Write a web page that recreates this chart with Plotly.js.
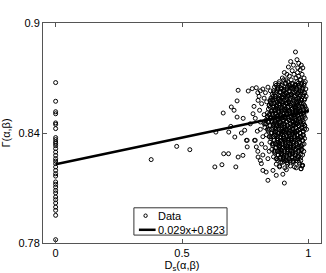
<!DOCTYPE html>
<html><head><meta charset="utf-8">
<script src="https://cdn.plot.ly/plotly-3.0.1.min.js"></script>
<style>html,body{margin:0;padding:0;background:#fff}#c{width:326px;height:273px}</style>
</head><body><div id="c"></div>
<script>
// Points at D_s = 0 (Gamma values)
const zeroY = [0.8675,0.8573,0.8516,0.8505,0.8455,0.8447,0.8424,0.8375,0.8364,0.8351,0.8342,0.8331,0.8315,0.8296,0.8278,0.8260,0.8247,0.8233,0.8215,0.8196,0.8178,0.8165,0.8133,0.8120,0.8105,0.8087,0.8073,0.8051,0.8036,0.8018,0.7996,0.7978,0.7951,0.7818];

// Scattered points (D_s, Gamma)
const sparseX = [0.378,0.479,0.531,0.630,0.658,0.634,0.663,0.665,0.684,0.685,0.693,0.695,0.706,0.713,0.718,0.722,0.718,0.709,0.722,0.741,0.748,0.758,0.758,0.762,0.778,0.794,0.785,0.781,0.801,0.807,0.787,0.794,0.801,0.814,0.820,0.833,0.840,0.860,0.873,0.886,0.905,0.899,0.971,0.977,
 0.800,0.810,0.820,0.830,0.840,0.850,0.805,0.825,0.815,0.835,0.845,0.790,0.810,0.825,0.830,0.840,0.850,0.855,0.860,
 0.810,0.820,0.815,0.800,0.790,0.820,0.830,0.840,0.825,0.810,0.845,0.770,0.755,0.735,0.742,0.798];
const sparseY = [0.8255,0.8327,0.8309,0.8215,0.8227,0.8405,0.8509,0.8287,0.8287,0.8405,0.8436,0.8542,0.8524,0.8215,0.8575,0.8633,0.8487,0.8378,0.8269,0.8278,0.8415,0.8360,0.8324,0.8629,0.8642,0.8647,0.8545,0.8505,0.8578,0.8524,0.8360,0.8324,0.8269,0.8233,0.8196,0.8187,0.8142,0.8196,0.8169,0.8215,0.8127,0.8175,0.8205,0.8224,
 0.862,0.863,0.864,0.862,0.865,0.863,0.860,0.859,0.856,0.857,0.855,0.848,0.846,0.850,0.845,0.849,0.858,0.852,0.860,
 0.842,0.838,0.834,0.830,0.836,0.828,0.832,0.826,0.845,0.825,0.830,0.845,0.836,0.840,0.848,0.841];

// Dense cluster (D_s, Gamma), part 1
const clusterX = [
 0.949,0.930,0.955,0.962,0.941,0.972,0.921,0.958,0.968,0.978,
 0.905,0.915,0.925,0.943,0.951,0.961,0.975,0.983,0.932,0.897,0.969,0.957,0.936,0.912,
 0.870,0.885,0.892,0.908,0.918,0.928,0.938,0.946,0.955,0.964,0.974,0.982,0.902,0.988,0.878,0.923,0.951,0.967,
 0.862,0.871,0.880,0.887,0.894,0.901,0.909,0.916,0.924,0.931,0.939,0.946,0.953,0.960,0.968,0.975,0.983,0.990,0.898,0.934,0.957,0.913,
 0.852,0.860,0.868,0.874,0.881,0.888,0.893,0.899,0.905,0.911,0.917,0.923,0.929,0.935,0.941,0.947,0.953,0.959,0.965,0.971,0.977,0.984,0.991,0.885,0.926,0.962,
 0.845,0.853,0.861,0.867,0.873,0.879,0.884,0.890,0.896,0.902,0.907,0.913,0.919,0.925,0.931,0.936,0.942,0.948,0.954,0.960,0.966,0.972,0.978,0.985,0.992,0.871,0.916,0.951,
 0.838,0.846,0.854,0.860,0.866,0.872,0.877,0.883,0.888,0.894,0.899,0.905,0.910,0.916,0.921,0.927,0.932,0.938,0.943,0.949,0.954,0.960,0.966,0.972,0.978,0.984,0.993,0.880,0.924,0.957,
 0.832,0.842,0.850,0.857,0.863,0.869,0.875,0.880,0.886,0.891,0.897,0.902,0.908,0.913,0.919,0.924,0.930,0.935,0.941,0.946,0.952,0.957,0.963,0.969,0.975,0.981,0.988,0.866,0.911,0.949,
 0.828,0.838,0.847,0.855,0.861,0.867,0.873,0.878,0.884,0.889,0.895,0.900,0.906,0.911,0.917,0.922,0.928,0.933,0.939,0.944,0.950,0.955,0.961,0.967,0.973,0.979,0.986,0.993,0.903,0.942,
 0.834,0.845,0.853,0.860,0.866,0.872,0.877,0.883,0.888,0.894,0.899,0.905,0.910,0.916,0.921,0.927,0.932,0.938,0.943,0.949,0.954,0.960,0.966,0.972,0.978,0.985,0.891,0.935,
 0.848,0.857,0.864,0.870,0.876,0.882,0.887,0.893,0.898,0.904,0.909,0.915,0.920,0.926,0.931,0.937,0.942,0.948,0.953,0.959,0.965,0.971,0.977,0.983,0.879,0.924,
 0.855,0.864,0.871,0.878,0.884,0.890,0.895,0.901,0.906,0.912,0.917,0.923,0.928,0.934,0.939,0.945,0.950,0.956,0.962,0.968,0.975,0.982,0.887,0.931,
 0.862,0.872,0.880,0.888,0.895,0.902,0.909,0.915,0.922,0.928,0.935,0.941,0.948,0.955,0.962,0.970,0.977,0.899,0.938,0.918,
 0.873,0.886,0.897,0.907,0.918,0.929,0.941,0.952,0.965,0.975,0.971,0.977,0.913,0.945];
const clusterY = [
 0.8842,0.879,0.880,0.878,0.877,0.877,0.876,0.8755,0.8745,0.8755,
 0.873,0.872,0.871,0.872,0.870,0.871,0.872,0.870,0.869,0.870,0.869,0.873,0.874,0.869,
 0.867,0.868,0.866,0.867,0.868,0.866,0.867,0.866,0.868,0.866,0.867,0.866,0.869,0.868,0.865,0.865,0.865,0.869,
 0.863,0.862,0.864,0.862,0.864,0.863,0.862,0.864,0.863,0.861,0.864,0.862,0.864,0.862,0.863,0.864,0.862,0.864,0.861,0.8645,0.8615,0.8615,
 0.859,0.858,0.860,0.858,0.859,0.860,0.857,0.859,0.861,0.858,0.860,0.857,0.859,0.861,0.858,0.860,0.857,0.859,0.860,0.858,0.860,0.858,0.860,0.8575,0.8605,0.8575,
 0.855,0.856,0.854,0.856,0.855,0.853,0.856,0.854,0.856,0.855,0.853,0.856,0.854,0.856,0.855,0.853,0.856,0.854,0.856,0.855,0.853,0.856,0.854,0.855,0.853,0.8535,0.8565,0.8535,
 0.851,0.850,0.852,0.850,0.852,0.851,0.849,0.852,0.850,0.852,0.851,0.849,0.852,0.850,0.852,0.851,0.849,0.852,0.850,0.852,0.851,0.849,0.852,0.850,0.851,0.849,0.852,0.8495,0.8525,0.8495,
 0.847,0.846,0.848,0.846,0.848,0.847,0.845,0.848,0.846,0.848,0.847,0.845,0.848,0.846,0.848,0.847,0.845,0.848,0.846,0.848,0.847,0.845,0.848,0.846,0.847,0.845,0.848,0.8455,0.8485,0.8455,
 0.843,0.842,0.844,0.842,0.844,0.843,0.841,0.844,0.842,0.844,0.843,0.841,0.844,0.842,0.844,0.843,0.841,0.844,0.842,0.844,0.843,0.841,0.844,0.842,0.843,0.841,0.844,0.842,0.8415,0.8445,
 0.839,0.838,0.840,0.838,0.840,0.839,0.837,0.840,0.838,0.840,0.839,0.837,0.840,0.838,0.840,0.839,0.837,0.840,0.838,0.840,0.839,0.837,0.840,0.838,0.839,0.837,0.8375,0.8405,
 0.835,0.834,0.836,0.834,0.836,0.835,0.833,0.836,0.834,0.836,0.835,0.833,0.836,0.834,0.836,0.835,0.833,0.836,0.834,0.836,0.835,0.833,0.836,0.834,0.8335,0.8365,
 0.831,0.830,0.832,0.830,0.832,0.831,0.829,0.832,0.830,0.832,0.831,0.829,0.832,0.830,0.832,0.831,0.829,0.832,0.830,0.832,0.831,0.830,0.8295,0.8325,
 0.827,0.826,0.828,0.826,0.828,0.827,0.825,0.828,0.826,0.828,0.827,0.825,0.828,0.826,0.827,0.825,0.828,0.8255,0.8285,0.825,
 0.823,0.822,0.824,0.821,0.823,0.822,0.824,0.821,0.823,0.822,0.8205,0.8224,0.820,0.8215];

// Dense cluster, part 2
const cluster2X = [
 0.866,0.879,0.891,0.904,0.917,0.929,0.942,0.954,0.966,0.979,
 0.857,0.870,0.883,0.896,0.908,0.920,0.932,0.944,0.956,0.969,0.981,
 0.849,0.863,0.876,0.888,0.899,0.911,0.922,0.933,0.945,0.957,0.968,0.980,
 0.842,0.856,0.869,0.881,0.892,0.903,0.914,0.925,0.936,0.947,0.958,0.969,0.981,
 0.837,0.851,0.864,0.876,0.887,0.898,0.909,0.920,0.931,0.942,0.953,0.964,0.976,
 0.834,0.849,0.862,0.874,0.885,0.896,0.907,0.918,0.929,0.940,0.951,0.962,0.974,0.985,
 0.841,0.856,0.869,0.880,0.891,0.902,0.913,0.924,0.935,0.946,0.957,0.968,0.980,
 0.851,0.866,0.878,0.889,0.900,0.911,0.922,0.933,0.944,0.955,0.966,0.978,
 0.859,0.873,0.885,0.896,0.907,0.918,0.929,0.940,0.951,0.962,0.973,
 0.867,0.881,0.893,0.904,0.915,0.926,0.937,0.948,0.959,0.970,
 0.878,0.891,0.903,0.915,0.927,0.939,0.951,0.963];
const cluster2Y = [
 0.8651,0.8641,0.8647,0.8638,0.8650,0.8643,0.8649,0.8640,0.8652,0.8644,
 0.8611,0.8601,0.8607,0.8598,0.8610,0.8603,0.8609,0.8600,0.8612,0.8604,0.8608,
 0.8571,0.8561,0.8567,0.8558,0.8570,0.8563,0.8569,0.8560,0.8572,0.8564,0.8568,0.8559,
 0.8531,0.8521,0.8527,0.8518,0.8530,0.8523,0.8529,0.8520,0.8532,0.8524,0.8528,0.8519,0.8526,
 0.8491,0.8481,0.8487,0.8478,0.8490,0.8483,0.8489,0.8480,0.8492,0.8484,0.8488,0.8479,0.8486,
 0.8451,0.8441,0.8447,0.8438,0.8450,0.8443,0.8449,0.8440,0.8452,0.8444,0.8448,0.8439,0.8446,0.8442,
 0.8411,0.8401,0.8407,0.8398,0.8410,0.8403,0.8409,0.8400,0.8412,0.8404,0.8408,0.8399,0.8406,
 0.8371,0.8361,0.8367,0.8358,0.8370,0.8363,0.8369,0.8360,0.8372,0.8364,0.8368,0.8359,
 0.8331,0.8321,0.8327,0.8318,0.8330,0.8323,0.8329,0.8320,0.8332,0.8324,0.8328,
 0.8291,0.8281,0.8287,0.8278,0.8290,0.8283,0.8289,0.8280,0.8292,0.8284,
 0.8251,0.8241,0.8247,0.8238,0.8250,0.8243,0.8249,0.8240];

// Dense cluster, part 3
const cluster3X = [
 0.872,0.884,0.897,0.911,0.923,0.935,0.948,0.960,0.971,0.984,
 0.864,0.877,0.889,0.902,0.914,0.926,0.938,0.950,0.962,0.975,0.986,
 0.856,0.869,0.881,0.893,0.905,0.916,0.927,0.939,0.951,0.963,0.974,0.986,
 0.849,0.862,0.874,0.886,0.897,0.908,0.919,0.930,0.941,0.952,0.963,0.975,0.987,
 0.843,0.857,0.870,0.882,0.893,0.904,0.915,0.926,0.937,0.948,0.959,0.970,0.982,
 0.840,0.855,0.868,0.880,0.891,0.902,0.913,0.924,0.935,0.946,0.957,0.968,0.980,
 0.845,0.859,0.872,0.884,0.895,0.906,0.917,0.928,0.939,0.950,0.961,0.973,0.985,
 0.852,0.866,0.879,0.891,0.902,0.913,0.924,0.935,0.946,0.957,0.969,0.981,
 0.861,0.875,0.887,0.898,0.909,0.920,0.931,0.942,0.953,0.964,0.976,
 0.869,0.883,0.895,0.906,0.917,0.928,0.939,0.950,0.961,0.972,
 0.876,0.889,0.901,0.913,0.925,0.936,0.947,0.958,0.969];
const cluster3Y = [
 0.8660,0.8669,0.8663,0.8672,0.8659,0.8668,0.8661,0.8671,0.8664,0.8670,
 0.8620,0.8629,0.8623,0.8632,0.8619,0.8628,0.8621,0.8631,0.8624,0.8630,0.8618,
 0.8580,0.8589,0.8583,0.8592,0.8579,0.8588,0.8581,0.8591,0.8584,0.8590,0.8578,0.8587,
 0.8540,0.8549,0.8543,0.8552,0.8539,0.8548,0.8541,0.8551,0.8544,0.8550,0.8538,0.8547,0.8542,
 0.8500,0.8509,0.8503,0.8512,0.8499,0.8508,0.8501,0.8511,0.8504,0.8510,0.8498,0.8507,0.8502,
 0.8460,0.8469,0.8463,0.8472,0.8459,0.8468,0.8461,0.8471,0.8464,0.8470,0.8458,0.8467,0.8462,
 0.8420,0.8429,0.8423,0.8432,0.8419,0.8428,0.8421,0.8431,0.8424,0.8430,0.8418,0.8427,0.8422,
 0.8380,0.8389,0.8383,0.8392,0.8379,0.8388,0.8381,0.8391,0.8384,0.8390,0.8378,0.8387,
 0.8340,0.8349,0.8343,0.8352,0.8339,0.8348,0.8341,0.8351,0.8344,0.8350,0.8338,
 0.8300,0.8309,0.8303,0.8312,0.8299,0.8308,0.8301,0.8311,0.8304,0.8310,
 0.8260,0.8269,0.8263,0.8272,0.8259,0.8268,0.8261,0.8271,0.8264];

// Linear fit
const fitSlope = 0.029, fitIntercept = 0.823;
const fitX = [0, 1];
const dataLabel = "Data";
const fitLabel = "0.029x+0.823";

const xTicks = [0, 0.5, 1], xTickText = ["0", "0.5", "1"];
const yTicks = [0.78, 0.84, 0.9], yTickText = ["0.78", "0.84", "0.9"];

const allX = zeroY.map(() => 0).concat(sparseX, clusterX, cluster2X, cluster3X);
const allY = zeroY.concat(sparseY, clusterY, cluster2Y, cluster3Y);
const fitY = fitX.map(v => fitSlope * v + fitIntercept);

const font = {family: "Liberation Sans, Arial, sans-serif", size: 11, color: "#000"};
const axisBase = {showline: true, linecolor: "#555", linewidth: 1, mirror: "ticks", ticks: "inside",
  ticklen: 4, tickcolor: "#555", showgrid: false, zeroline: false, tickfont: font, tickmode: "array"};

// Legend box (drawn with shapes/annotations in paper coordinates)
const lg = {x0: 0.327, x1: 0.662, y0: 0.036, y1: 0.160, row1: 0.124, row2: 0.060, mx: 0.369, lx0: 0.345, lx1: 0.405, tx: 0.408};

Plotly.newPlot("c", [
  {x: allX, y: allY, type: "scatter", mode: "markers", name: dataLabel,
   marker: {symbol: "circle-open", size: 4, color: "#000", line: {width: 1, color: "#000"}}},
  {x: fitX, y: fitY, type: "scatter", mode: "lines", name: fitLabel,
   line: {color: "#000", width: 2.5}}
], {
  width: 326, height: 273, margin: {l: 43, r: 5, t: 23, b: 30},
  paper_bgcolor: "#fff", plot_bgcolor: "#fff", font: font, showlegend: false,
  xaxis: Object.assign({}, axisBase, {range: [-0.05, 1.05], tickvals: xTicks, ticktext: xTickText,
    title: {text: "D<sub>s</sub>(α,β)", font: font, standoff: 2}}),
  yaxis: Object.assign({}, axisBase, {range: [0.78, 0.9], tickvals: yTicks, ticktext: yTickText,
    title: {text: "Γ(α,β)", font: font, standoff: 6}}),
  shapes: [
    {type: "rect", xref: "paper", yref: "paper", x0: lg.x0, x1: lg.x1, y0: lg.y0, y1: lg.y1,
     fillcolor: "#fff", line: {color: "#333", width: 1}, layer: "above"},
    {type: "circle", xref: "paper", yref: "paper", x0: lg.mx - 0.006, x1: lg.mx + 0.006, y0: lg.row1 - 0.008, y1: lg.row1 + 0.008,
     line: {color: "#000", width: 1}, layer: "above"},
    {type: "line", xref: "paper", yref: "paper", x0: lg.lx0, x1: lg.lx1, y0: lg.row2, y1: lg.row2,
     line: {color: "#000", width: 2.5}, layer: "above"}
  ],
  annotations: [
    {xref: "paper", yref: "paper", x: lg.tx, y: lg.row1, xanchor: "left", yanchor: "middle", text: dataLabel, showarrow: false, font: font},
    {xref: "paper", yref: "paper", x: lg.tx, y: lg.row2, xanchor: "left", yanchor: "middle", text: fitLabel, showarrow: false, font: font}
  ]
}, {displayModeBar: false, staticPlot: true});
</script></body></html>
